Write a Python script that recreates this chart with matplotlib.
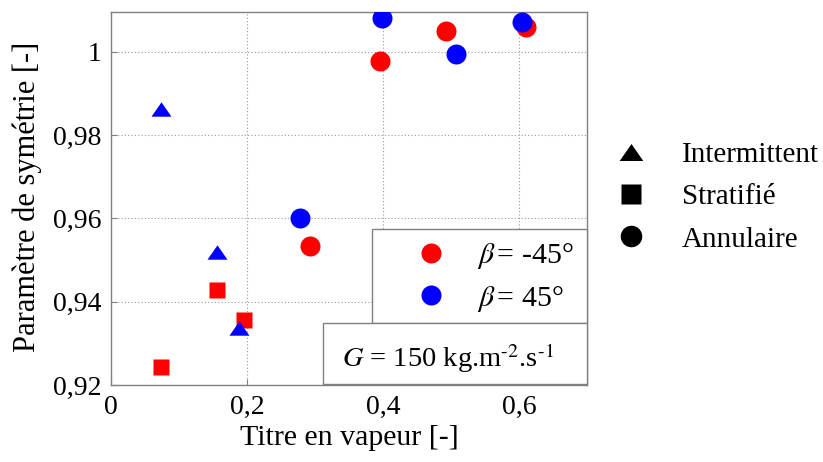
import matplotlib
matplotlib.use("Agg")
import matplotlib.pyplot as plt
from matplotlib.lines import Line2D
from matplotlib.patches import Rectangle
from matplotlib.path import Path

plt.rcParams['font.family'] = ['Liberation Serif', 'DejaVu Serif']
plt.rcParams['mathtext.fontset'] = 'stix'

# ---- data ----
red_strat_x = [0.074, 0.156, 0.195]
red_strat_y = [0.9243, 0.9427, 0.9355]
red_annu_x = [0.292, 0.396, 0.492, 0.610]
red_annu_y = [0.9533, 0.9978, 1.0050, 1.0060]
blue_inter_x = [0.074, 0.156, 0.188]
blue_inter_y = [0.9863, 0.9519, 0.9337]
blue_annu_x = [0.278, 0.398, 0.507, 0.604]
blue_annu_y = [0.9600, 1.0080, 0.9994, 1.0072]

xticks = [0, 0.2, 0.4, 0.6]
xticklabels = ['0', '0,2', '0,4', '0,6']
yticks = [0.92, 0.94, 0.96, 0.98, 1.0]
yticklabels = ['0,92', '0,94', '0,96', '0,98', '1']

beta_labels = [r'$\beta\,$= -45°', r'$\beta\,$= 45°']
regime_labels = ['Intermittent', 'Stratifié', 'Annulaire']
g_text = r'$G$ = 150 kg.m$^{\text{-2}}$.s$^{\text{-1}}$'

RED = '#ff0000'
BLUE = '#0000ff'
GREY = '#808080'

tri = Path([(-1, -0.72), (1, -0.72), (0, 0.72), (-1, -0.72)],
           [Path.MOVETO, Path.LINETO, Path.LINETO, Path.CLOSEPOLY])

fig = plt.figure(figsize=(8.23, 4.62), dpi=100)
ax = fig.add_axes([0.1349, 0.1667, 0.5784, 0.8074])

ax.plot(red_strat_x, red_strat_y, ls='none', marker='s', ms=11.8, color=RED, mec='none', zorder=3)
ax.plot(red_annu_x, red_annu_y, ls='none', marker='o', ms=14.4, color=RED, mec='none', zorder=3)
ax.plot(blue_inter_x, blue_inter_y, ls='none', marker=tri, ms=14.4, color=BLUE, mec='none', zorder=3)
ax.plot(blue_annu_x, blue_annu_y, ls='none', marker='o', ms=14.4, color=BLUE, mec='none', zorder=3)

ax.set_xlim(0, 0.7)
ax.set_ylim(0.92, 1.0095)
ax.set_xticks(xticks)
ax.set_xticklabels(xticklabels)
ax.set_yticks(yticks)
ax.set_yticklabels(yticklabels)
ax.tick_params(labelsize=20, direction='in', length=4, color=GREY, pad=7)
ax.grid(True, color='#999999', linestyle=(0, (1, 2)), linewidth=0.8)
ax.set_axisbelow(True)
for s in ax.spines.values():
    s.set_color(GREY)
    s.set_linewidth(1.0)

ax.set_xlabel('Titre en vapeur [-]', fontsize=21.5, labelpad=4)
ax.set_ylabel('Paramètre de symétrie [-]', fontsize=22)
ax.yaxis.set_label_coords(-0.146, 0.505)

# boxes
ax.add_patch(Rectangle((0.548, 0.166), 0.452, 0.252, transform=ax.transAxes,
                       facecolor='white', edgecolor=GREY, lw=1.0, zorder=4, clip_on=False))
ax.add_patch(Rectangle((0.445, 0.003), 0.555, 0.163, transform=ax.transAxes,
                       facecolor='white', edgecolor=GREY, lw=1.0, zorder=4, clip_on=False))

beta_handles = [Line2D([], [], ls='none', marker='o', ms=14.4, color=RED, mec='none'),
                Line2D([], [], ls='none', marker='o', ms=14.4, color=BLUE, mec='none')]
leg1 = ax.legend(beta_handles, beta_labels, loc='center left',
                 bbox_to_anchor=(0.5055, 0.3998), bbox_transform=fig.transFigure,
                 frameon=False, fontsize=21.5, handlelength=1.0, handletextpad=1.05,
                 borderpad=0, borderaxespad=0, labelspacing=0.42)
leg1.set_zorder(6)

ax.text(0.707, 0.048, g_text, transform=ax.transAxes, ha='center', va='baseline',
        fontsize=20.5, zorder=6)

reg_handles = [Line2D([], [], ls='none', marker=tri, ms=17, color='black', mec='none'),
               Line2D([], [], ls='none', marker='s', ms=14, color='black', mec='none'),
               Line2D([], [], ls='none', marker='o', ms=15.5, color='black', mec='none')]
fig.legend(reg_handles, regime_labels, loc='center left',
           bbox_to_anchor=(0.7485, 0.5736), frameon=False, fontsize=21,
           handlelength=1.0, handletextpad=1.25, borderpad=0, borderaxespad=0,
           labelspacing=0.55)

fig.savefig('out.png', dpi=100)
